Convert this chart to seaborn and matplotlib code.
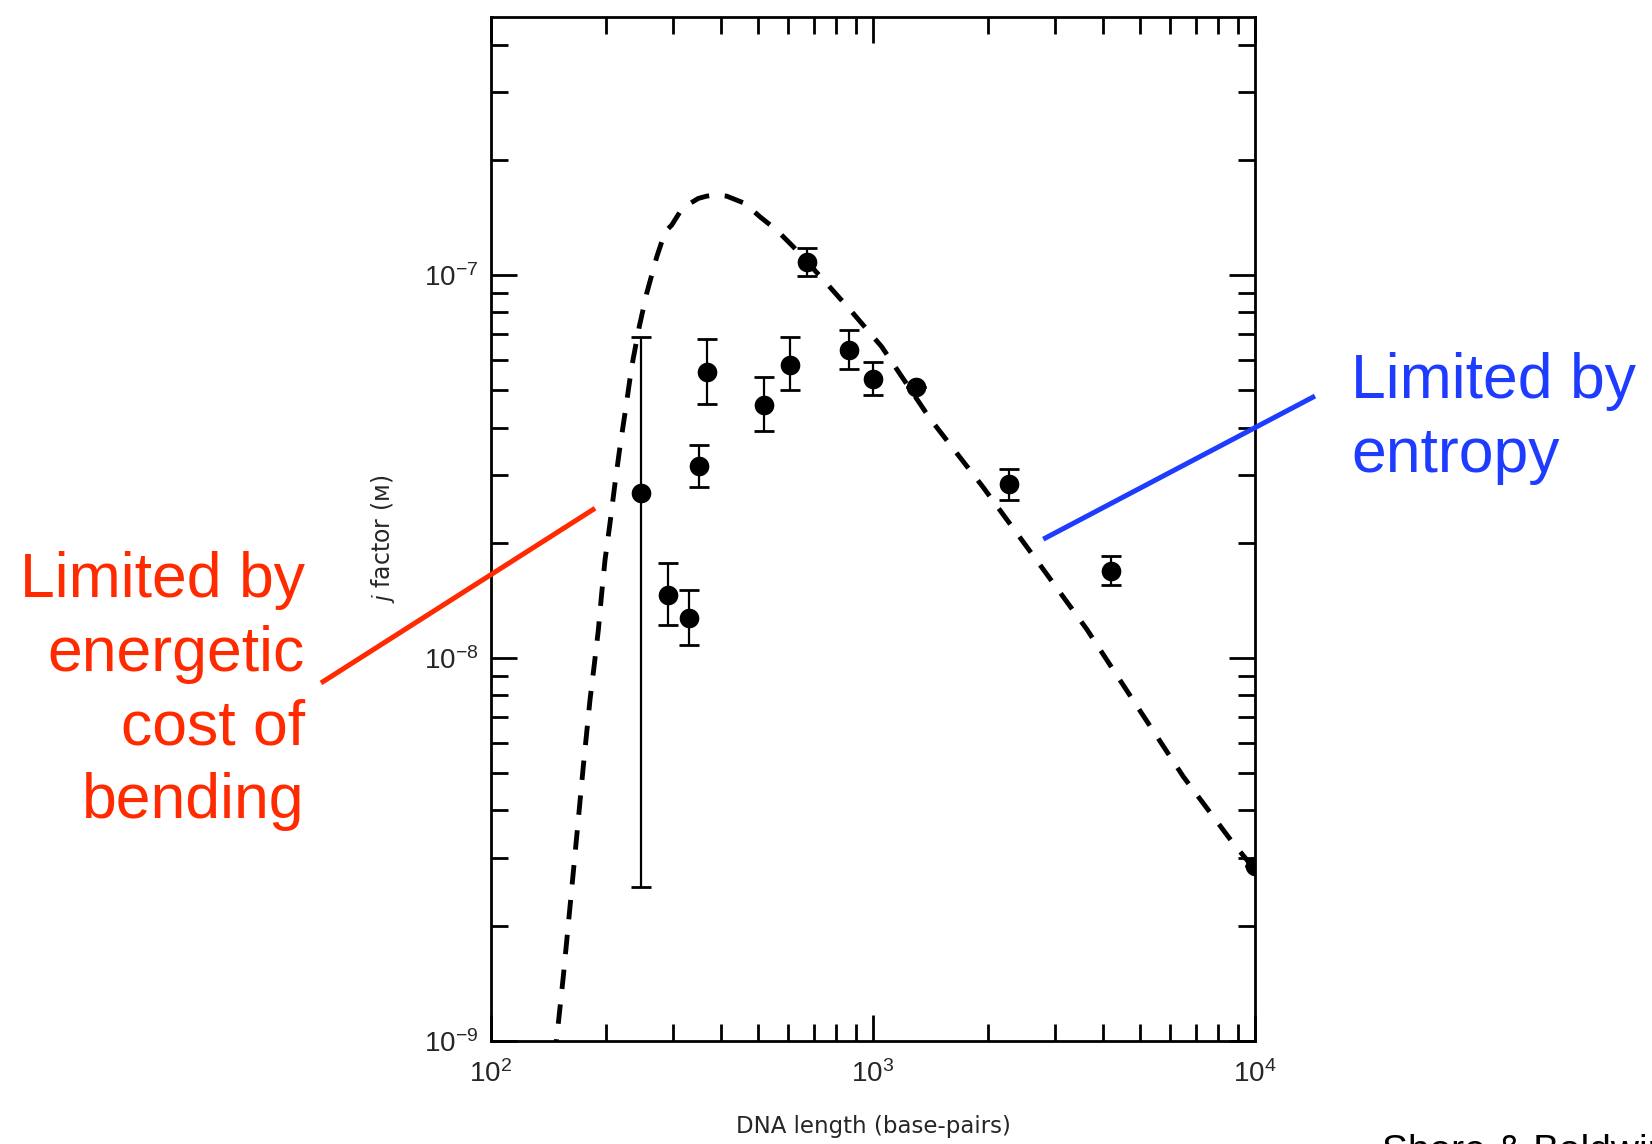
import numpy as np
import pandas as pd
import matplotlib
matplotlib.use("Agg")
import matplotlib.pyplot as plt
import seaborn as sns
from matplotlib.lines import Line2D
from matplotlib.ticker import FixedLocator, NullFormatter, LogLocator
from matplotlib import font_manager

# ---------------- data ----------------
length_bp = [247, 290, 330, 351, 368, 519, 606, 671, 867, 998, 1296, 2270, 4206, 10000]
j_factor = [2.70e-8, 1.46e-8, 1.276e-8, 3.17e-8, 5.59e-8, 4.58e-8, 5.82e-8,
            1.083e-7, 6.37e-8, 5.37e-8, 5.09e-8, 2.84e-8, 1.69e-8, 2.86e-9]
j_low = [2.53e-9, 1.22e-8, 1.08e-8, 2.80e-8, 4.62e-8, 3.92e-8, 5.01e-8,
         9.96e-8, 5.70e-8, 4.86e-8, 5.09e-8, 2.59e-8, 1.55e-8, 2.86e-9]
j_high = [6.88e-8, 1.77e-8, 1.51e-8, 3.60e-8, 6.81e-8, 5.43e-8, 6.88e-8,
          1.18e-7, 7.18e-8, 5.94e-8, 5.09e-8, 3.12e-8, 1.85e-8, 2.86e-9]

theory_bp = [146.7, 149.1, 154.6, 161, 167.6, 174.4, 181.6, 186.1, 191, 194.9, 198.8,
             204.9, 211.2, 217.6, 225.6, 233.5, 244.4, 255.6, 271.6, 285.5, 297.2,
             312.5, 331.8, 348.9, 367, 389.8, 414, 439.7, 462.4, 506, 559.7, 618.6,
             756.5, 888, 1054, 1410, 1944, 2682, 3626, 4901, 6493, 8775, 10000]
theory_j = [9.0e-10, 1.047e-9, 1.47e-9, 2.24e-9, 3.41e-9, 5.20e-9, 7.77e-9, 9.49e-9,
            1.183e-8, 1.476e-8, 1.80e-8, 2.25e-8, 2.86e-8, 3.56e-8, 4.53e-8, 5.76e-8,
            7.33e-8, 8.96e-8, 1.116e-7, 1.297e-7, 1.351e-7, 1.463e-7, 1.539e-7,
            1.586e-7, 1.608e-7, 1.618e-7, 1.608e-7, 1.57e-7, 1.539e-7, 1.42e-7,
            1.311e-7, 1.186e-7, 9.51e-8, 7.94e-8, 6.50e-8, 4.22e-8, 2.79e-8, 1.80e-8,
            1.19e-8, 7.51e-9, 4.90e-9, 3.28e-9, 2.80e-9]

x_ticks = [1e2, 1e3, 1e4]
x_tick_labels = [r"$10^2$", r"$10^3$", r"$10^4$"]
y_ticks = [1e-9, 1e-8, 1e-7]
y_tick_labels = [r"$10^{-9}$", r"$10^{-8}$", r"$10^{-7}$"]

x_label = "DNA length (base-pairs)"
y_label = r"$j$ factor (ᴍ)"
left_note = ["Limited by", "energetic", "cost of", "bending"]
right_note = ["Limited by", "entropy"]
credit = "Shore & Baldwin"

RED = "#FF2A00"
BLUE = "#1E3CFF"

# ---------------- style ----------------
sns.set_theme(style="ticks", context="paper")
plt.rcParams["font.family"] = ["DejaVu Sans"]

installed = {f.name for f in font_manager.fontManager.ttflist}
if "Liberation Sans Narrow" in installed:
    tick_font, TICK_SIZE = "Liberation Sans Narrow", 24
else:
    tick_font, TICK_SIZE = "Liberation Sans", 20
plt.rcParams["mathtext.fontset"] = "custom"
plt.rcParams["mathtext.rm"] = tick_font
plt.rcParams["mathtext.it"] = "Liberation Sans:italic"
plt.rcParams["mathtext.bf"] = "Liberation Sans:bold"

fig = plt.figure(figsize=(16.52, 11.44), dpi=100)
fig.patch.set_facecolor("white")
ax = fig.add_axes([0.2972, 0.0900, 0.4625, 0.8951])
ax.set_facecolor("white")
ax.set_xscale("log")
ax.set_yscale("log")

theory = pd.DataFrame({"bp": theory_bp, "j": theory_j})
points = pd.DataFrame({"bp": length_bp, "j": j_factor})

sns.lineplot(data=theory, x="bp", y="j", ax=ax, color="black", linewidth=3.5,
             linestyle=(0, (4, 3.2)), sort=False, estimator=None, legend=False,
             zorder=2)

yerr = [np.array(j_factor) - np.array(j_low), np.array(j_high) - np.array(j_factor)]
ax.errorbar(length_bp, j_factor, yerr=yerr, fmt="none", ecolor="black",
            elinewidth=1.6, capsize=7.5, capthick=2.0, zorder=3)
sns.scatterplot(data=points, x="bp", y="j", ax=ax, color="black", s=200,
                linewidth=0, zorder=4, legend=False)

ax.set_xlim(1e2, 1e4)
ax.set_ylim(1e-9, 4.72e-7)

ax.xaxis.set_minor_locator(LogLocator(base=10, subs=np.arange(2, 10)))
ax.yaxis.set_minor_locator(LogLocator(base=10, subs=np.arange(2, 10)))
ax.xaxis.set_minor_formatter(NullFormatter())
ax.yaxis.set_minor_formatter(NullFormatter())

ax.tick_params(which="both", direction="in", top=True, right=True, color="black")
ax.tick_params(which="major", length=19, width=2.0, labelsize=TICK_SIZE)
ax.tick_params(which="minor", length=12, width=2.0)
ax.tick_params(axis="x", which="major", pad=14)
ax.tick_params(axis="y", which="major", pad=9)

ax.xaxis.set_major_locator(FixedLocator(x_ticks))
ax.set_xticklabels(x_tick_labels, fontsize=TICK_SIZE)
ax.yaxis.set_major_locator(FixedLocator(y_ticks))
ax.set_yticklabels(y_tick_labels, fontsize=TICK_SIZE)

for s in ax.spines.values():
    s.set_linewidth(2.0)
    s.set_color("black")
    s.set_visible(True)

ax.set_xlabel(x_label, fontsize=16.5)
ax.xaxis.set_label_coords(0.5, -0.072)
ax.set_ylabel(y_label, fontsize=17)
ax.yaxis.set_label_coords(-0.123, 0.49)

# ---------------- annotations ----------------
left_baselines = [0.4781, 0.4135, 0.3488, 0.2850]
for txt, yb in zip(left_note, left_baselines):
    fig.text(0.1846, yb, txt, color=RED, fontsize=45, ha="right", va="baseline",
             family="Liberation Sans")
right_baselines = [0.6521, 0.5874]
for txt, yb in zip(right_note, right_baselines):
    fig.text(0.8178, yb, txt, color=BLUE, fontsize=45, ha="left", va="baseline",
             family="Liberation Sans")

fig.add_artist(Line2D([0.1943, 0.3602], [0.4030, 0.5557], transform=fig.transFigure,
                      color=RED, linewidth=3.6, solid_capstyle="butt", zorder=5))
fig.add_artist(Line2D([0.6315, 0.7960], [0.5287, 0.6538], transform=fig.transFigure,
                      color=BLUE, linewidth=3.6, solid_capstyle="butt", zorder=5))

fig.text(0.8366, 0.0087, credit, fontsize=28, ha="left", va="top",
         family="Liberation Sans", color="black")

fig.savefig("out.png", dpi=100, facecolor="white")
